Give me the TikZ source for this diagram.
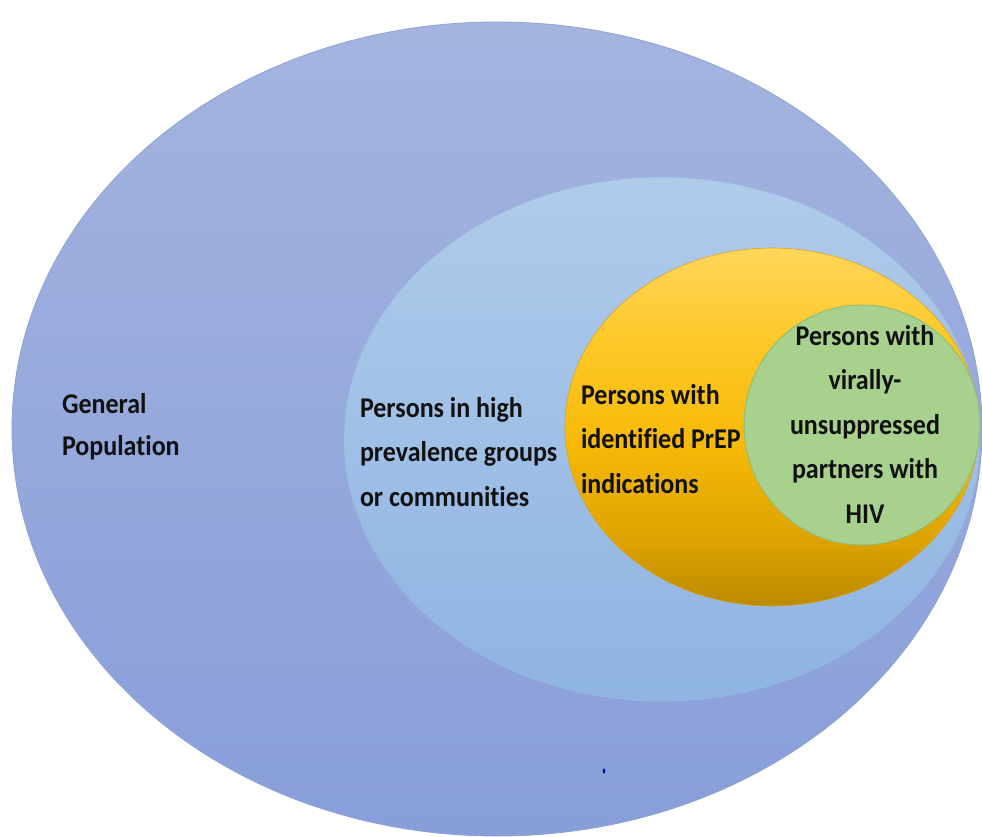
\documentclass[tikz,border=0pt]{standalone}
\usepackage{fontspec}
\setmainfont[Ligatures=NoCommon]{Carlito}
\usepackage{graphicx}
\definecolor{outerTop}{HTML}{A4B4DF}
\definecolor{outerBot}{HTML}{889ED9}
\definecolor{outerLine}{HTML}{8FA2D6}
\definecolor{midTop}{HTML}{B0CBEA}
\definecolor{midBot}{HTML}{8EB4E2}
\definecolor{midLine}{HTML}{9AB6DF}
\definecolor{yelA}{HTML}{BC8A00}
\definecolor{yelB}{HTML}{DCA200}
\definecolor{yelC}{HTML}{F7BA08}
\definecolor{yelD}{HTML}{FEC828}
\definecolor{yelE}{HTML}{FFD65C}
\definecolor{yelLine}{HTML}{D8A520}
\definecolor{grnFill}{HTML}{A9D18E}
\definecolor{grnLine}{HTML}{93BD77}
\definecolor{txtCol}{HTML}{111111}
\pgfdeclareverticalshading{yelshade}{100bp}{color(0bp)=(yelA); color(25bp)=(yelA); color(34bp)=(yelB); color(48bp)=(yelC); color(62bp)=(yelD); color(75bp)=(yelE); color(100bp)=(yelE)}
\newcommand{\lbltxt}[3]{\scalebox{1}[1.1]{\fontsize{26}{#1}\selectfont\begin{tabular}[t]{@{}#2@{}}#3\end{tabular}}}
\begin{document}
\begin{tikzpicture}[x=1pt,y=1pt,
  lbl/.style={inner sep=0pt,outer sep=0pt,text=txtCol,font=\bfseries}]
\fill[white] (0,0) rectangle (982,-836);
\useasboundingbox (0,0) rectangle (982,-836);
% outer ellipse
\shade[top color=outerTop,bottom color=outerBot] (497,-429) ellipse [x radius=485,y radius=407];
\draw[outerLine,line width=0.8pt] (497,-429) ellipse [x radius=485,y radius=407];
% middle ellipse
\shade[top color=midTop,bottom color=midBot] (662,-439) ellipse [x radius=318,y radius=262];
\draw[midLine,line width=0.8pt] (662,-439) ellipse [x radius=318,y radius=262];
% yellow ellipse
\shade[shading=yelshade] (772,-427) ellipse [x radius=207,y radius=179];
\draw[yelLine,line width=0.6pt] (772,-427) ellipse [x radius=207,y radius=179];
% green ellipse
\fill[grnFill] (862,-425) ellipse [x radius=118,y radius=120];
\draw[grnLine,line width=1pt] (862,-425) ellipse [x radius=118,y radius=120];
% tiny dot
\fill[blue!70!black] (604,-771) ellipse [x radius=1.2,y radius=2.6];
% labels
\node[lbl,anchor=base west] (gen) at (62,-413) {\lbltxt{38.2}{l}{General\\Population}};
\node[lbl,anchor=base west] (high) at (360,-417) {\lbltxt{40.5}{l}{Persons in high\\prevalence groups\\or communities}};
\node[lbl,anchor=base west] (prep) at (581,-404) {\lbltxt{40.5}{l}{Persons with\\identified PrEP\\indications}};
\node[lbl,anchor=base] (viral) at (865,-345) {\lbltxt{40.5}{c}{Persons with\\virally-\\unsuppressed\\partners with\\HIV}};
\end{tikzpicture}
\end{document}
